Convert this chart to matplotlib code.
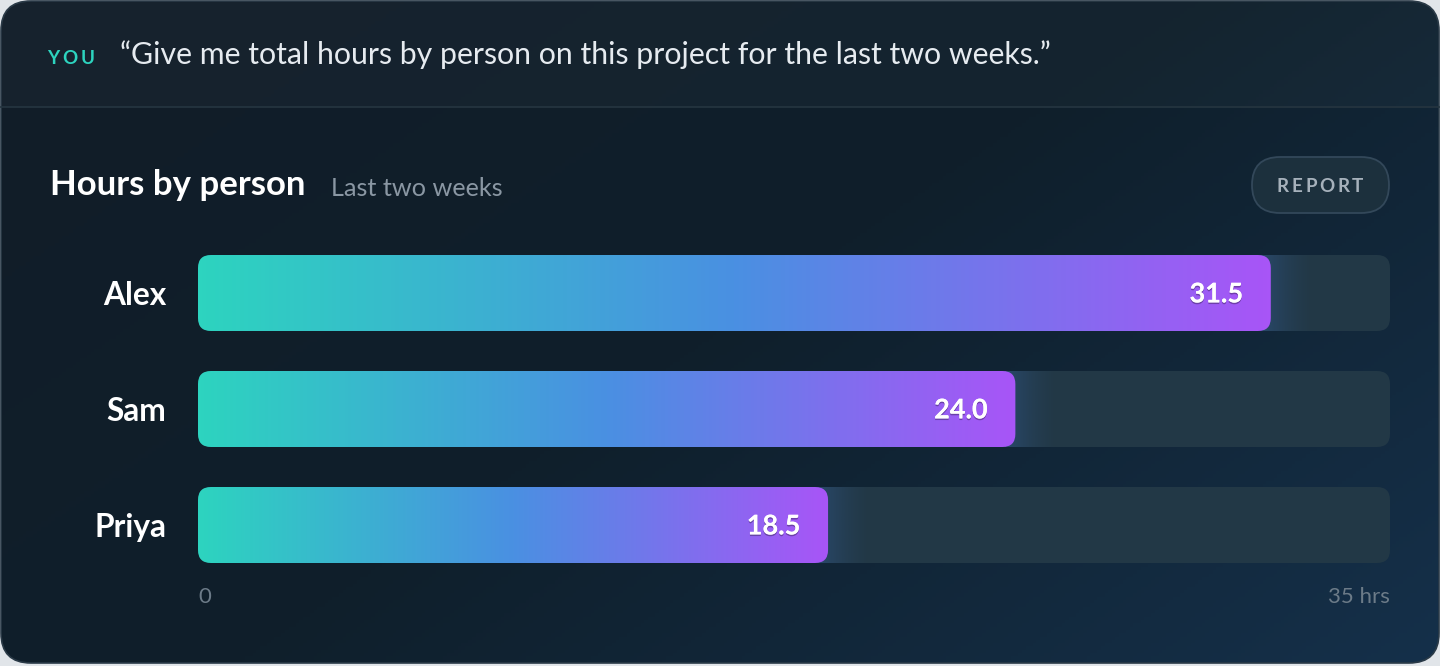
import matplotlib
matplotlib.use("Agg")
import matplotlib.pyplot as plt
import matplotlib.patheffects as pe
import numpy as np
from matplotlib.patches import FancyBboxPatch, Rectangle
from matplotlib.colors import LinearSegmentedColormap, to_rgb

# data
people = ["Alex", "Sam", "Priya"]
hours = [31.5, 24.0, 18.5]
axis_max = 35
tick_labels = ["0", "35 hrs"]
prompt = "\u201cGive me total hours by person on this project for the last two weeks.\u201d"
title = "Hours by person"
subtitle = "Last two weeks"
button = "REPORT"

W, H = 1440, 666
plt.rcParams["font.family"] = ["Lato", "DejaVu Sans"]
fig = plt.figure(figsize=(W / 100, H / 100), dpi=100)
fig.patch.set_facecolor("#e1e5e9")

# background card in pixel coords
bg = fig.add_axes([0, 0, 1, 1])
bg.set_xlim(0, W)
bg.set_ylim(H, 0)
bg.axis("off")

clip = FancyBboxPatch((1, 1), W - 2, H - 4, boxstyle="round,pad=0,rounding_size=30",
                      transform=bg.transData)
yy, xx = np.mgrid[0:1:200j, 0:1:400j]
cmap_bg = LinearSegmentedColormap.from_list("bg", ["#121d28", "#0f1f2b", "#15304a"])
im = bg.imshow(xx * 0.6 + yy * 0.4, extent=[1, W - 1, H - 3, 1], cmap=cmap_bg,
               aspect="auto", zorder=1)
im.set_clip_path(clip)
hdr = Rectangle((0, 0), W, 107, fc="white", alpha=0.025, zorder=2)
bg.add_patch(hdr)
hdr.set_clip_path(clip)
bg.add_patch(FancyBboxPatch((1, 1), W - 2, H - 4, boxstyle="round,pad=0,rounding_size=30",
                            fc="none", ec="#2a3a47", lw=1.2, zorder=3))
bg.plot([1, W - 1], [107, 107], color="#24343f", lw=1.3, zorder=3)


def spaced(x, y, s, spacing, center=False, **kw):
    r = fig.canvas.get_renderer()
    widths = []
    for ch in s:
        t = bg.text(0, 0, ch, **kw)
        widths.append(t.get_window_extent(r).width)
        t.remove()
    total = sum(widths) + spacing * (len(s) - 1)
    start = x - total / 2 if center else x
    for ch, w in zip(s, widths):
        bg.text(start, y, ch, ha="left", va="center", zorder=5, **kw)
        start += w + spacing


spaced(47, 58, "YOU", 3.2, color="#2dd4bf", fontsize=13.5, fontweight="bold")
bg.text(120, 55, prompt, color="#e6ebf0", fontsize=21.8, va="center", zorder=5)
bg.text(50, 185, title, color="white", fontsize=25, fontweight="bold", va="center", zorder=5)
bg.text(331, 188, subtitle, color="#8a97a3", fontsize=18.2, va="center", zorder=5)

bg.add_patch(FancyBboxPatch((1252, 157), 137, 56, boxstyle="round,pad=0,rounding_size=28",
                            fc="#1c303d", ec="#33485a", lw=1.3, zorder=4))
spaced(1320, 186, button, 2.6, center=True, color="#a6b1bb", fontsize=13.5, fontweight="bold")

# bar chart axes
ax = fig.add_axes([198 / W, (H - 563) / H, 1192 / W, 308 / H])
ax.patch.set_alpha(0)
for s in ax.spines.values():
    s.set_visible(False)
ext = 38 / 116
bar_h = 76 / 116
ax.set_xlim(0, axis_max)
ax.set_ylim(len(people) - 1 + ext, -ext)

px_x = 1192 / axis_max
rad = 13 / px_x
asp = px_x / 116

cmap_bar = LinearSegmentedColormap.from_list("bar", ["#2dd4bf", "#4a90e2", "#a855f7"])
grad = np.linspace(0, 1, 256).reshape(1, -1)
glow_rgb = to_rgb("#3a6fc0")
glow = np.zeros((1, 64, 4))
glow[..., :3] = glow_rgb
glow[..., 3] = np.linspace(0.45, 0, 64) ** 1.5

for i, (name, v) in enumerate(zip(people, hours)):
    y0 = i - bar_h / 2
    track = FancyBboxPatch((0, y0), axis_max, bar_h,
                           boxstyle=f"round,pad=0,rounding_size={rad}",
                           mutation_aspect=asp, fc="#223846", ec="none", zorder=1)
    ax.add_patch(track)
    g = ax.imshow(glow, extent=[v - 0.3, v + 1.3, y0 + bar_h, y0], aspect="auto", zorder=2)
    g.set_clip_path(track)
    bar = FancyBboxPatch((0, y0), v, bar_h,
                         boxstyle=f"round,pad=0,rounding_size={rad}",
                         mutation_aspect=asp, fc="none", ec="none", zorder=3)
    ax.add_patch(bar)
    b = ax.imshow(grad, extent=[0, v, y0 + bar_h, y0], cmap=cmap_bar, aspect="auto", zorder=3)
    b.set_clip_path(bar)
    ax.annotate(f"{v:.1f}", (v, i), xytext=(-20, -1), textcoords="offset points",
                ha="right", va="center", color="white", fontsize=19.5, fontweight="bold",
                zorder=5,
                path_effects=[pe.withSimplePatchShadow(offset=(0, -1.2), shadow_rgbFace="black",
                                                       alpha=0.3), pe.Normal()])

ax.set_yticks(range(len(people)), people)
ax.set_xticks([0, axis_max], tick_labels)
ax.tick_params(axis="y", length=0, pad=23, labelsize=22.8, labelcolor="white")
ax.tick_params(axis="x", length=0, pad=17, labelsize=16, labelcolor="#6c7b88")
for lab in ax.get_yticklabels():
    lab.set_fontweight("bold")
xl = ax.get_xticklabels()
xl[0].set_ha("left")
xl[1].set_ha("right")

fig.savefig("out.png", dpi=100, facecolor=fig.get_facecolor())
